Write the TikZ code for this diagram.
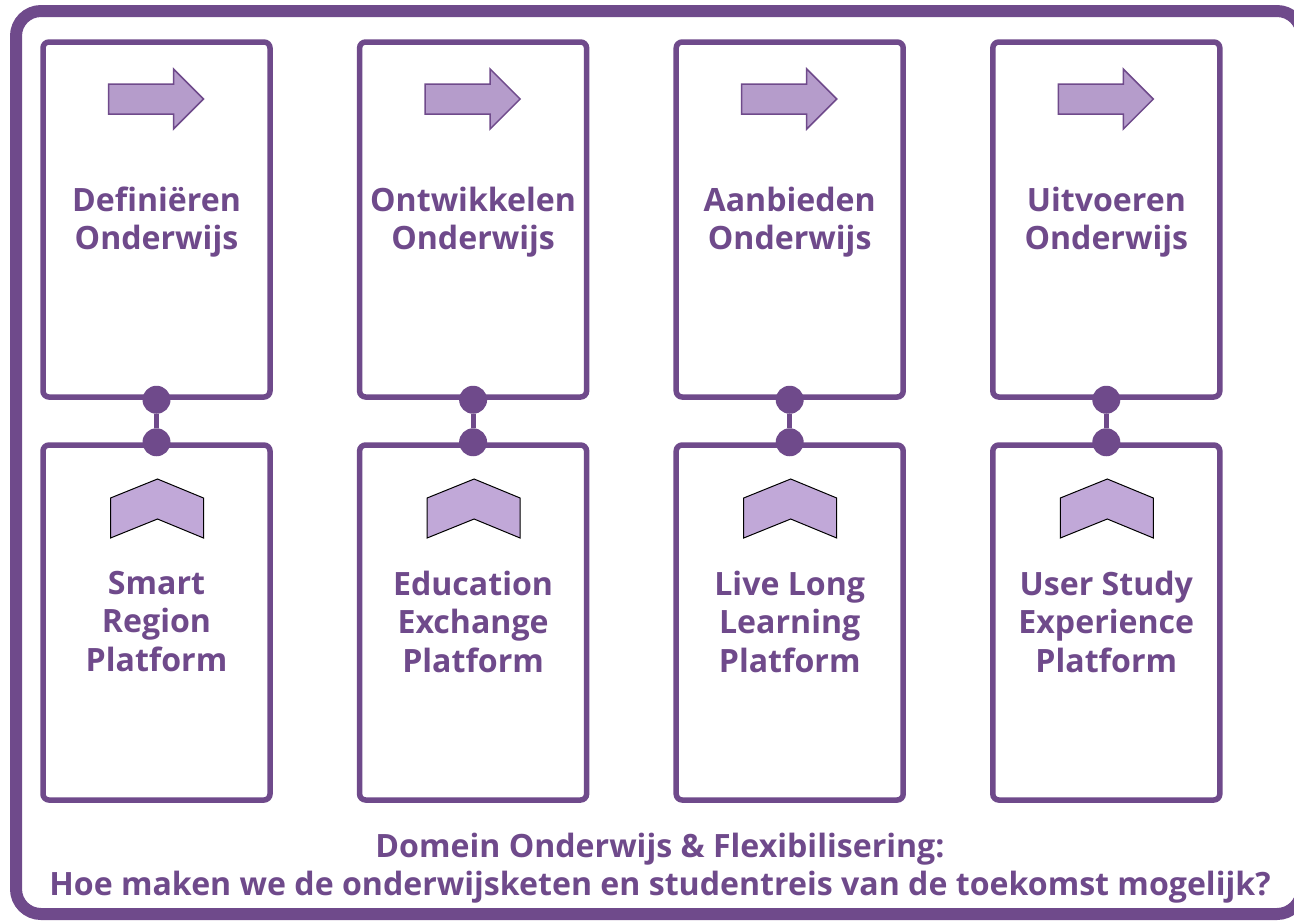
\documentclass[tikz,border=0pt]{standalone}
\usepackage{fontspec}
\setmainfont{Open Sans}
\usepackage{tikz}
\usetikzlibrary{arrows.meta, positioning, shapes}
\definecolor{dpurple}{RGB}{111, 74, 139}
\definecolor{lpurple}{RGB}{181, 156, 203}
\definecolor{cpurple}{RGB}{193, 168, 216}

\begin{document}
\begin{tikzpicture}[x=1pt, y=-1pt,
    phase/.style={draw=dpurple, line width=5.5pt, rounded corners=6pt, fill=white,
        minimum width=227pt, minimum height=355pt, inner sep=0pt},
    lbl/.style={text=dpurple, font=\bfseries\fontsize{32.1}{38.5}\selectfont, align=center},
    dot/.style={circle, fill=dpurple, minimum size=28pt, inner sep=0pt}]
\useasboundingbox (0,0) rectangle (1294,922);

% Outer frame
\draw[dpurple, line width=12pt, rounded corners=25pt] (16,11) rectangle (1302,914);

% Columns
\foreach \i/\top/\bot in {1/{Definiëren\\Onderwijs}/{Smart\\Region\\Platform},
                          2/{Ontwikkelen\\Onderwijs}/{Education\\Exchange\\Platform},
                          3/{Aanbieden\\Onderwijs}/{Live Long\\Learning\\Platform},
                          4/{Uitvoeren\\Onderwijs}/{User Study\\Experience\\Platform}} {
    \pgfmathsetmacro{\cx}{156.5+316.6*(\i-1)}
    \node[phase] (t\i) at (\cx, 219.5) {};
    \node[phase] (b\i) at (\cx, 622.5) {};
    % arrow icon
    \draw[dpurple, line width=1.5pt, fill=lpurple, line join=miter]
        (\cx-48, 84) -- (\cx+17, 84) -- (\cx+17, 69) -- (\cx+47, 99)
        -- (\cx+17, 129) -- (\cx+17, 114) -- (\cx-48, 114) -- cycle;
    % chevron icon
    \draw[black, line width=1pt, fill=cpurple]
        (\cx-46, 498) -- (\cx+1, 479) -- (\cx+47, 498) -- (\cx+47, 538)
        -- (\cx+1, 519) -- (\cx-46, 538) -- cycle;
    % labels
    \node[lbl] (tl\i) at (\cx, 222) {\top};
    \node[lbl] (bl\i) at (\cx, 621.5) {\bot};
    % link between the boxes
    \node[dot] (ct\i) at (t\i.south) {};
    \node[dot] (cb\i) at (b\i.north) {};
    \draw[dpurple, line width=5pt] (ct\i) -- (cb\i);
}

\node[lbl] (title) at (660, 868) {Domein Onderwijs \& Flexibilisering:\\
    Hoe maken we de onderwijsketen en studentreis van de toekomst mogelijk?};
\end{tikzpicture}
\end{document}
